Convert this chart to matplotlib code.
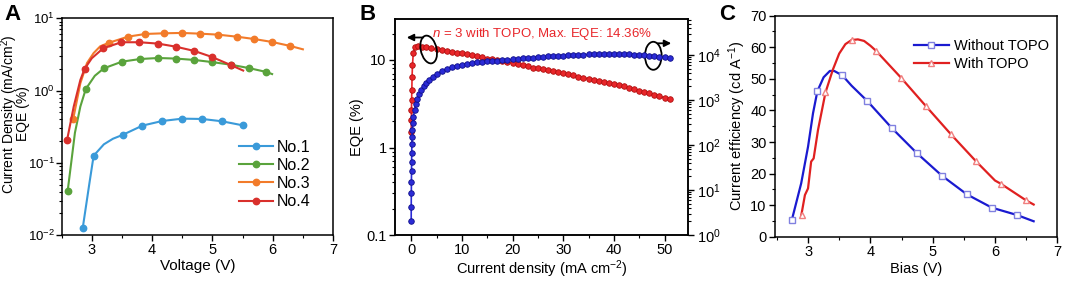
import matplotlib
matplotlib.use("Agg")
import matplotlib.pyplot as plt
from matplotlib.patches import Ellipse
from matplotlib.ticker import FixedLocator, FixedFormatter, MultipleLocator, LogLocator, NullFormatter
import numpy as np

plt.rcParams['font.family'] = ['Liberation Sans', 'DejaVu Sans']
plt.rcParams['mathtext.fontset'] = 'custom'
plt.rcParams['mathtext.rm'] = 'Liberation Sans'
plt.rcParams['mathtext.it'] = 'Liberation Sans:italic'
plt.rcParams['mathtext.bf'] = 'Liberation Sans:bold'
plt.rcParams['axes.linewidth'] = 1.1

# ---------------- Panel A data ----------------
a_labels = ["No.1", "No.2", "No.3", "No.4"]
a_colors = ["#3a9ad9", "#5aa33c", "#f27b2a", "#d9302c"]
# markers
a1_v = [2.85, 3.03, 3.51, 3.84, 4.17, 4.50, 4.83, 5.16, 5.50]
a1_y = [0.0126, 0.125, 0.243, 0.327, 0.379, 0.408, 0.404, 0.375, 0.330]
a2_v = [2.60, 2.90, 3.20, 3.50, 3.80, 4.10, 4.39, 4.70, 4.99, 5.30, 5.60, 5.89]
a2_y = [0.041, 1.05, 2.03, 2.51, 2.73, 2.82, 2.77, 2.65, 2.48, 2.28, 2.05, 1.81]
a3_v = [2.69, 3.29, 3.60, 3.89, 4.20, 4.49, 4.79, 5.09, 5.40, 5.69, 5.99, 6.29]
a3_y = [0.40, 4.6, 5.57, 6.07, 6.2, 6.27, 6.13, 5.94, 5.57, 5.17, 4.70, 4.14]
a4_v = [2.59, 2.88, 3.19, 3.49, 3.79, 4.10, 4.39, 4.70, 4.99, 5.30]
a4_y = [0.207, 1.99, 3.85, 4.66, 4.66, 4.46, 4.05, 3.53, 2.92, 2.26]
# curve points
a1_cv = [2.85, 2.92, 2.96, 3.03, 3.2, 3.35, 3.51, 3.84, 4.17, 4.50, 4.83, 5.16, 5.50]
a1_cy = [0.0126, 0.031, 0.052, 0.125, 0.18, 0.215, 0.243, 0.327, 0.379, 0.408, 0.404, 0.375, 0.330]
a2_cv = [2.60, 2.67, 2.72, 2.81, 2.90, 3.05, 3.20, 3.50, 3.80, 4.10, 4.39, 4.70, 4.99, 5.30, 5.60, 5.89, 5.99]
a2_cy = [0.041, 0.12, 0.26, 0.6, 1.05, 1.6, 2.03, 2.51, 2.73, 2.82, 2.77, 2.65, 2.48, 2.28, 2.05, 1.81, 1.69]
a3_cv = [2.69, 2.81, 2.92, 3.03, 3.14, 3.29, 3.60, 3.89, 4.20, 4.49, 4.79, 5.09, 5.40, 5.69, 5.99, 6.29, 6.50]
a3_cy = [0.40, 1.26, 2.4, 3.3, 4.1, 4.6, 5.57, 6.07, 6.2, 6.27, 6.13, 5.94, 5.57, 5.17, 4.70, 4.14, 3.72]
a4_cv = [2.59, 2.70, 2.81, 2.88, 3.0, 3.19, 3.49, 3.79, 4.10, 4.39, 4.70, 4.99, 5.30, 5.51]
a4_cy = [0.207, 0.6, 1.4, 1.99, 2.8, 3.85, 4.66, 4.66, 4.46, 4.05, 3.53, 2.92, 2.26, 1.89]

# ---------------- Panel B data ----------------
b_eqe_j = [0.0, 0.02, 0.05, 0.08, 0.12, 0.17, 0.25, 0.4, 0.8, 1.4, 2.2,
           3, 4, 5, 6, 7, 8, 9, 10, 11, 12, 13, 14, 15, 16, 17, 18, 19, 20,
           21, 22, 23, 24, 25, 26, 27, 28, 29, 30, 31, 32, 33, 34, 35, 36, 37,
           38, 39, 40, 41, 42, 43, 44, 45, 46, 47, 48, 49, 50, 51]
b_eqe = [1.5, 2.06, 2.68, 3.49, 4.54, 6.45, 8.77, 11.9, 14.2, 14.36, 14.2,
         13.9, 13.6, 13.2, 12.9, 12.7, 12.4, 12.1, 11.9, 11.6, 11.3, 11.0, 10.7, 10.4, 10.2, 9.9, 9.7, 9.4, 9.2,
         8.9, 8.7, 8.5, 8.2, 8.0, 7.8, 7.6, 7.4, 7.2, 7.05, 6.85, 6.65, 6.45, 6.3, 6.1, 5.95, 5.8,
         5.6, 5.45, 5.3, 5.15, 5.0, 4.8, 4.65, 4.47, 4.3, 4.15, 4.0, 3.85, 3.7, 3.58]
b_lum_j = [0.0, 0.0, 0.02, 0.04, 0.06, 0.08, 0.1, 0.13, 0.16, 0.2, 0.3, 0.45, 0.65, 0.9, 1.2, 1.6,
           2.0, 2.5, 3.0, 3.6, 4.3, 5.0, 6, 7, 8, 9, 10, 11, 12, 13, 14, 15, 16, 17, 18, 19, 20,
           21, 22, 23, 24, 25, 26, 27, 28, 29, 30, 31, 32, 33, 34, 35, 36, 37, 38, 39, 40,
           41, 42, 43, 44, 45, 46, 47, 48, 49, 50, 51]
b_lum = [2, 4.2, 8.7, 15, 27, 43, 67, 104, 152, 215, 310, 430, 600, 800, 1050, 1350,
         1650, 2000, 2400, 2850, 3300, 3800, 4400, 4950, 5400, 5800, 6150, 6450, 6700, 6900, 7100, 7250, 7400, 7550, 7700, 7850, 8000,
         8200, 8400, 8600, 8800, 9000, 9150, 9300, 9450, 9600, 9750, 9900, 10000, 10100, 10200, 10300, 10350, 10400, 10450, 10500, 10500,
         10450, 10400, 10300, 10200, 10100, 9950, 9750, 9500, 9200, 8900, 8600]
b_text = "$\\it{n}$ = 3 with TOPO, Max. EQE: 14.36%"

# ---------------- Panel C data ----------------
c_labels = ["Without TOPO", "With TOPO"]
c_wo_v = [2.74, 3.15, 3.55, 3.95, 4.35, 4.75, 5.15, 5.55, 5.95, 6.35]
c_wo_y = [5.3, 46.1, 51.1, 43.0, 34.3, 26.4, 19.3, 13.4, 9.2, 6.9]
c_w_v = [2.90, 3.28, 3.70, 4.09, 4.49, 4.89, 5.29, 5.69, 6.10, 6.50]
c_w_y = [6.9, 45.7, 62.3, 58.9, 50.4, 41.4, 32.5, 24.0, 16.7, 11.5]
c_wo_cv = [2.74, 2.89, 3.0, 3.08, 3.15, 3.25, 3.35, 3.42, 3.55, 3.7, 3.95, 4.35, 4.75, 5.15, 5.55, 5.95, 6.35, 6.62]
c_wo_cy = [5.3, 16.9, 28.5, 39.1, 46.1, 50.5, 52.5, 52.5, 51.1, 47.8, 43.0, 34.3, 26.4, 19.3, 13.4, 9.2, 6.9, 4.9]
c_w_cv = [2.89, 2.95, 3.0, 3.05, 3.09, 3.16, 3.28, 3.4, 3.5, 3.6, 3.7, 3.8, 3.9, 4.0, 4.09, 4.49, 4.89, 5.29, 5.69, 6.0, 6.10, 6.50, 6.62]
c_w_cy = [6.6, 13.2, 15.3, 23.8, 24.8, 33.8, 45.7, 53.0, 58.0, 61.0, 62.3, 62.5, 62.0, 60.5, 58.9, 50.4, 41.4, 32.5, 24.0, 17.8, 16.7, 11.5, 10.2]

fig = plt.figure(figsize=(10.65, 2.88), dpi=100)
FS = 10.5

def style_ticks(ax):
    ax.tick_params(which='major', direction='out', length=4, width=1, labelsize=FS, pad=2)
    ax.tick_params(which='minor', direction='out', length=2.2, width=0.8)

# ---------------- Panel A ----------------
axA = fig.add_axes([0.0579, 0.184, 0.2548, 0.7525])
axA.set_yscale('log')
curvesA = [(a1_cv, a1_cy), (a2_cv, a2_cy), (a3_cv, a3_cy), (a4_cv, a4_cy)]
marksA = [(a1_v, a1_y), (a2_v, a2_y), (a3_v, a3_y), (a4_v, a4_y)]
handles = []
for (cv, cy), (mv, my), col, lab in zip(curvesA, marksA, a_colors, a_labels):
    axA.plot(cv, cy, color=col, lw=1.5)
    axA.plot(mv, my, 'o', color=col, ms=4.6, mec=col)
    h, = axA.plot([], [], '-o', color=col, lw=1.5, ms=4.6, label=lab)
    handles.append(h)
axA.set_xlim(2.5, 7)
axA.set_ylim(0.01, 10)
axA.xaxis.set_major_locator(MultipleLocator(1))
axA.xaxis.set_minor_locator(MultipleLocator(0.5))
axA.yaxis.set_minor_locator(LogLocator(base=10, subs=np.arange(2, 10)))
axA.yaxis.set_minor_formatter(NullFormatter())
style_ticks(axA)
axA.tick_params(axis='y', which='major', labelsize=9.5, pad=1)
axA.set_xlabel("Voltage (V)", fontsize=11, labelpad=1)
axA.set_ylabel("Current Density (mA/cm$^2$)\nEQE (%)", fontsize=10, linespacing=0.65)
axA.yaxis.set_label_coords(-0.116, 0.56)
axA.legend(handles=handles, loc='lower right', bbox_to_anchor=(0.94, 0.09), frameon=False,
           fontsize=11.5, handlelength=2.1, handletextpad=0.25, labelspacing=0.2, borderaxespad=0)
fig.text(0.004, 0.985, "A", fontsize=16, fontweight='bold', va='top', ha='left')

# ---------------- Panel B ----------------
axB = fig.add_axes([0.3709, 0.184, 0.2754, 0.750])
axB.set_yscale('log')
red_b = "#e8262a"
blue_b = "#2b2bd6"
axB.plot(b_eqe_j, b_eqe, '-o', color=red_b, lw=1.2, ms=4, mfc=red_b, mec="#b01010", mew=0.6, zorder=3)
axB.set_xlim(-3.2, 54.7)
axB.set_ylim(0.1, 29.4)
axB.yaxis.set_major_locator(FixedLocator([0.1, 1, 10]))
axB.yaxis.set_major_formatter(FixedFormatter(["0.1", "1", "10"]))
axB.yaxis.set_minor_locator(LogLocator(base=10, subs=np.arange(2, 10)))
axB.yaxis.set_minor_formatter(NullFormatter())
axB.xaxis.set_major_locator(MultipleLocator(10))
axB.xaxis.set_minor_locator(MultipleLocator(5))
style_ticks(axB)
axB.set_xlabel("Current density (mA cm$^{-2}$)", fontsize=10.5, labelpad=1)
axB.set_ylabel("EQE (%)", fontsize=10.5, labelpad=2)
axB2 = axB.twinx()
axB2.set_yscale('log')
axB2.plot(b_lum_j, b_lum, '-o', color=blue_b, lw=1.2, ms=4, mfc=blue_b, mec="#10108a", mew=0.6, zorder=3)
axB2.set_ylim(1, 10**4.8)
axB2.yaxis.set_major_locator(LogLocator(base=10, numticks=10))
axB2.yaxis.set_minor_locator(LogLocator(base=10, subs=np.arange(2, 10), numticks=10))
axB2.yaxis.set_minor_formatter(NullFormatter())
style_ticks(axB2)
axB.text(0.5, 0.93, b_text, transform=axB.transAxes, color=red_b, fontsize=9.5, ha='center', va='center')

def frac(px, py, ax):
    l, b, w, h = ax.get_position().bounds
    return ((px / 1065 - l) / w, ((1 - py / 288) - b) / h)
bb = axB.get_position()
ex, ey = frac(428.7, 49.5, axB)
axB.add_patch(Ellipse((ex, ey), 16 / 1065 / bb.width, 28 / 288 / bb.height, angle=8,
                      transform=axB.transAxes, fill=False, ec='black', lw=1.3, zorder=5))
x0, y0 = frac(426, 37.5, axB)
x1, y1 = frac(404, 37.5, axB)
axB.annotate("", xy=(x1, y1), xytext=(x0, y0), xycoords='axes fraction',
             arrowprops=dict(arrowstyle='-|>', color='black', lw=1.3, mutation_scale=10), zorder=6)
ex, ey = frac(653.3, 55.8, axB)
axB.add_patch(Ellipse((ex, ey), 16.7 / 1065 / bb.width, 28 / 288 / bb.height, angle=0,
                      transform=axB.transAxes, fill=False, ec='black', lw=1.3, zorder=5))
x0, y0 = frac(655, 43.3, axB)
x1, y1 = frac(674, 43.3, axB)
axB.annotate("", xy=(x1, y1), xytext=(x0, y0), xycoords='axes fraction',
             arrowprops=dict(arrowstyle='-|>', color='black', lw=1.3, mutation_scale=10), zorder=6)
fig.text(0.338, 0.985, "B", fontsize=16, fontweight='bold', va='top', ha='left')

# ---------------- Panel C ----------------
axC = fig.add_axes([0.7277, 0.178, 0.2651, 0.7675])
blue_c = "#1a1ad0"
red_c = "#e02020"
axC.plot(c_wo_cv, c_wo_cy, color=blue_c, lw=1.6)
axC.plot(c_wo_v, c_wo_y, 's', ms=4.5, mfc='white', mec="#8080e0", mew=1)
axC.plot(c_w_cv, c_w_cy, color=red_c, lw=1.6)
axC.plot(c_w_v, c_w_y, '^', ms=4.5, mfc='white', mec="#f08080", mew=1)
hb, = axC.plot([], [], '-s', color=blue_c, lw=1.6, ms=4.5, mfc='white', mec="#8080e0", label=c_labels[0])
hr, = axC.plot([], [], '-^', color=red_c, lw=1.6, ms=4.5, mfc='white', mec="#f08080", label=c_labels[1])
axC.set_xlim(2.47, 7)
axC.set_ylim(0, 70)
axC.xaxis.set_major_locator(MultipleLocator(1))
axC.xaxis.set_minor_locator(MultipleLocator(0.5))
axC.yaxis.set_major_locator(MultipleLocator(10))
axC.yaxis.set_minor_locator(MultipleLocator(5))
style_ticks(axC)
axC.set_xlabel("Bias (V)", fontsize=10.5, labelpad=2)
axC.set_ylabel("Current efficiency (cd A$^{-1}$)", fontsize=10.5, labelpad=2)
axC.legend(handles=[hb, hr], loc='upper right', bbox_to_anchor=(0.99, 0.92), frameon=False,
           fontsize=10.5, handlelength=2.4, handletextpad=0.35, labelspacing=0.25, borderaxespad=0)
fig.text(0.675, 0.985, "C", fontsize=16, fontweight='bold', va='top', ha='left')

fig.savefig("out.png", dpi=100)
